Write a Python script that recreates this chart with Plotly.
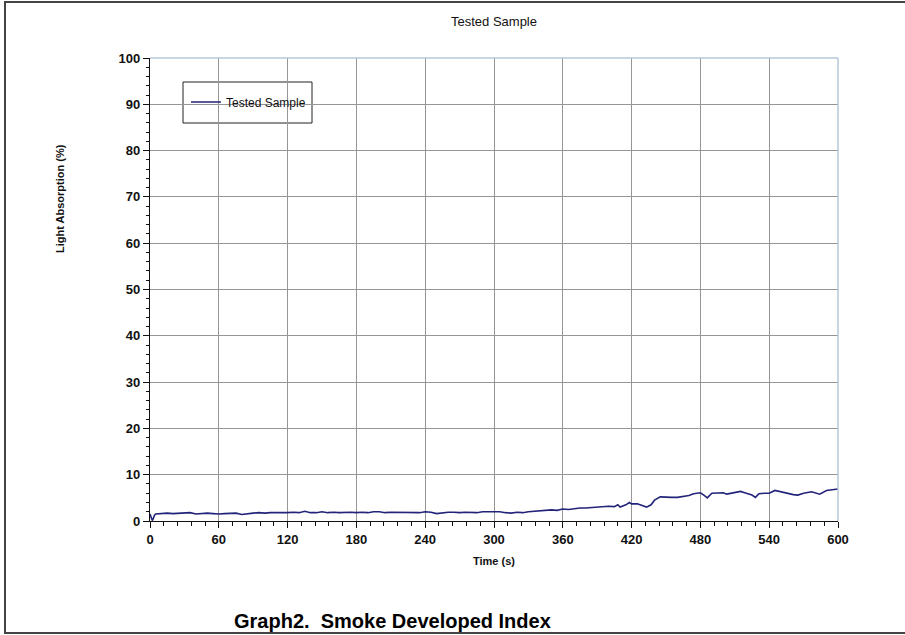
import plotly.graph_objects as go

# Smoke release test: light absorption vs. time
time_s = [0, 1, 2, 3, 4, 5, 10, 15, 20, 25, 30, 35, 40, 45, 50, 55, 60, 65, 70, 75,
          80, 85, 90, 95, 100, 105, 110, 115, 120, 125, 130, 135, 140, 145, 150, 155,
          160, 165, 170, 175, 180, 185, 190, 195, 200, 205, 210, 215, 220, 225, 230,
          235, 240, 245, 250, 255, 260, 265, 270, 275, 280, 285, 290, 295, 300, 305,
          310, 315, 320, 325, 330, 335, 340, 345, 350, 355, 360, 365, 370, 375, 380,
          385, 390, 395, 400, 405, 408, 410, 415, 418, 420, 425, 430, 433, 437, 440,
          445, 450, 455, 460, 465, 470, 474, 480, 483, 486, 490, 495, 500, 503, 508,
          515, 520, 525, 528, 531, 536, 540, 545, 550, 555, 561, 565, 570, 577, 584,
          590, 595, 600]
absorption = [1.5, 0.8, 0.1, 0.6, 1.3, 1.5, 1.6, 1.7, 1.6, 1.7, 1.7, 1.8, 1.5, 1.6,
              1.7, 1.6, 1.5, 1.6, 1.7, 1.7, 1.4, 1.6, 1.7, 1.8, 1.7, 1.8, 1.8, 1.7,
              1.8, 1.9, 1.8, 2.1, 1.8, 1.8, 2.0, 1.8, 1.9, 1.8, 1.9, 1.9, 1.8, 1.9,
              1.8, 2.0, 2.0, 1.8, 1.9, 1.9, 1.8, 1.9, 1.9, 1.8, 2.0, 1.9, 1.6, 1.8,
              1.9, 1.9, 1.8, 1.9, 1.9, 1.8, 2.0, 2.0, 2.1, 2.0, 1.8, 1.7, 1.9, 1.8,
              2.0, 2.1, 2.2, 2.3, 2.4, 2.3, 2.6, 2.5, 2.7, 2.8, 2.8, 2.9, 3.0, 3.0,
              3.2, 3.1, 3.5, 3.0, 3.5, 4.0, 3.7, 3.7, 3.2, 3.0, 3.5, 4.5, 5.2, 5.1,
              5.1, 5.1, 5.3, 5.5, 5.9, 6.1, 5.6, 5.0, 6.0, 6.1, 6.1, 5.8, 6.0, 6.4,
              6.0, 5.6, 5.1, 5.9, 6.0, 6.0, 6.6, 6.3, 6.0, 5.7, 5.6, 6.0, 6.3, 5.8,
              6.6, 6.7, 6.9]

series_name = "Tested Sample"
chart_title = "Tested Sample"
x_title = "Time (s)"
y_title = "Light Absorption (%)"
caption = "Graph2.\u00a0\u00a0Smoke Developed Index"
x_ticks = [0, 60, 120, 180, 240, 300, 360, 420, 480, 540, 600]
y_ticks = [0, 10, 20, 30, 40, 50, 60, 70, 80, 90, 100]

W, H = 905, 635
L, R, T, B = 150, 67, 58, 114
pw, ph = W - L - R, H - T - B
FONT = "Arial, Liberation Sans, sans-serif"


def px_x(p):
    return (p - L) / pw


def px_y(p):
    return 1 - (p - T) / ph


fig = go.Figure()
fig.add_trace(go.Scatter(
    x=time_s, y=absorption, mode="lines", name=series_name,
    line=dict(color="#23237a", width=1.6),
))

tick_font = dict(family=FONT, size=13, color="#111", weight="bold")
grid_col = "#969696"

fig.update_xaxes(
    range=[0, 600], tickvals=x_ticks, ticktext=[str(v) for v in x_ticks],
    showgrid=True, gridcolor=grid_col, gridwidth=1.3,
    showline=True, linecolor="#111", linewidth=1.2,
    ticks="outside", ticklen=6, tickcolor="#111", tickwidth=1,
    minor=dict(dtick=12, tick0=0, ticks="outside", ticklen=4, tickcolor="#111",
               showgrid=False),
    tickfont=tick_font, zeroline=False, mirror=False,
)
fig.update_yaxes(
    range=[0, 100], tickvals=y_ticks, ticktext=[str(v) for v in y_ticks],
    showgrid=True, gridcolor=grid_col, gridwidth=1.3,
    showline=True, linecolor="#111", linewidth=1.2,
    ticks="outside", ticklen=6, tickcolor="#111", tickwidth=1,
    minor=dict(dtick=2, tick0=0, ticks="outside", ticklen=3, tickcolor="#111",
               showgrid=False),
    tickfont=tick_font, zeroline=False, mirror=False,
)

shapes = [
    # light top/right border of the plotting area
    dict(type="line", xref="paper", yref="paper", x0=0, x1=1, y0=1, y1=1,
         line=dict(color="#b9c7da", width=1.5)),
    dict(type="line", xref="paper", yref="paper", x0=1, x1=1, y0=0, y1=1,
         line=dict(color="#b9c7da", width=1.5)),
    # legend box
    dict(type="rect", xref="paper", yref="paper",
         x0=px_x(183), x1=px_x(312), y0=px_y(123), y1=px_y(82),
         line=dict(color="#222", width=1), fillcolor="white", layer="below"),
    # page frame
    dict(type="line", xref="paper", yref="paper",
         x0=px_x(5), x1=px_x(5), y0=px_y(2), y1=px_y(633),
         line=dict(color="#444", width=2)),
    dict(type="line", xref="paper", yref="paper",
         x0=px_x(4), x1=px_x(905), y0=px_y(2), y1=px_y(2),
         line=dict(color="#444", width=2)),
    dict(type="line", xref="paper", yref="paper",
         x0=px_x(4), x1=px_x(905), y0=px_y(633), y1=px_y(633),
         line=dict(color="#444", width=2)),
]

annotations = [
    dict(text=chart_title, xref="paper", yref="paper", x=0.5, y=px_y(22),
         showarrow=False, font=dict(family=FONT, size=13, color="#111"),
         xanchor="center", yanchor="middle"),
    dict(text=y_title, xref="paper", yref="paper", x=px_x(60), y=px_y(199),
         textangle=-90, showarrow=False,
         font=dict(family=FONT, size=11, color="#111", weight="bold"),
         xanchor="center", yanchor="middle"),
    dict(text=x_title, xref="paper", yref="paper", x=0.5, y=px_y(561),
         showarrow=False,
         font=dict(family=FONT, size=11, color="#111", weight="bold"),
         xanchor="center", yanchor="middle"),
    dict(text=caption, xref="paper", yref="paper", x=px_x(392), y=px_y(621),
         showarrow=False,
         font=dict(family=FONT, size=20, color="#000", weight="bold"),
         xanchor="center", yanchor="middle"),
]

fig.update_layout(
    width=W, height=H,
    margin=dict(l=L, r=R, t=T, b=B, pad=0),
    paper_bgcolor="white", plot_bgcolor="white",
    showlegend=True,
    legend=dict(x=px_x(186), y=px_y(102), xanchor="left", yanchor="middle",
                bgcolor="rgba(0,0,0,0)", borderwidth=0,
                font=dict(family=FONT, size=12, color="#111"),
                itemwidth=30),
    shapes=shapes, annotations=annotations,
)

fig.write_html("out.html")
